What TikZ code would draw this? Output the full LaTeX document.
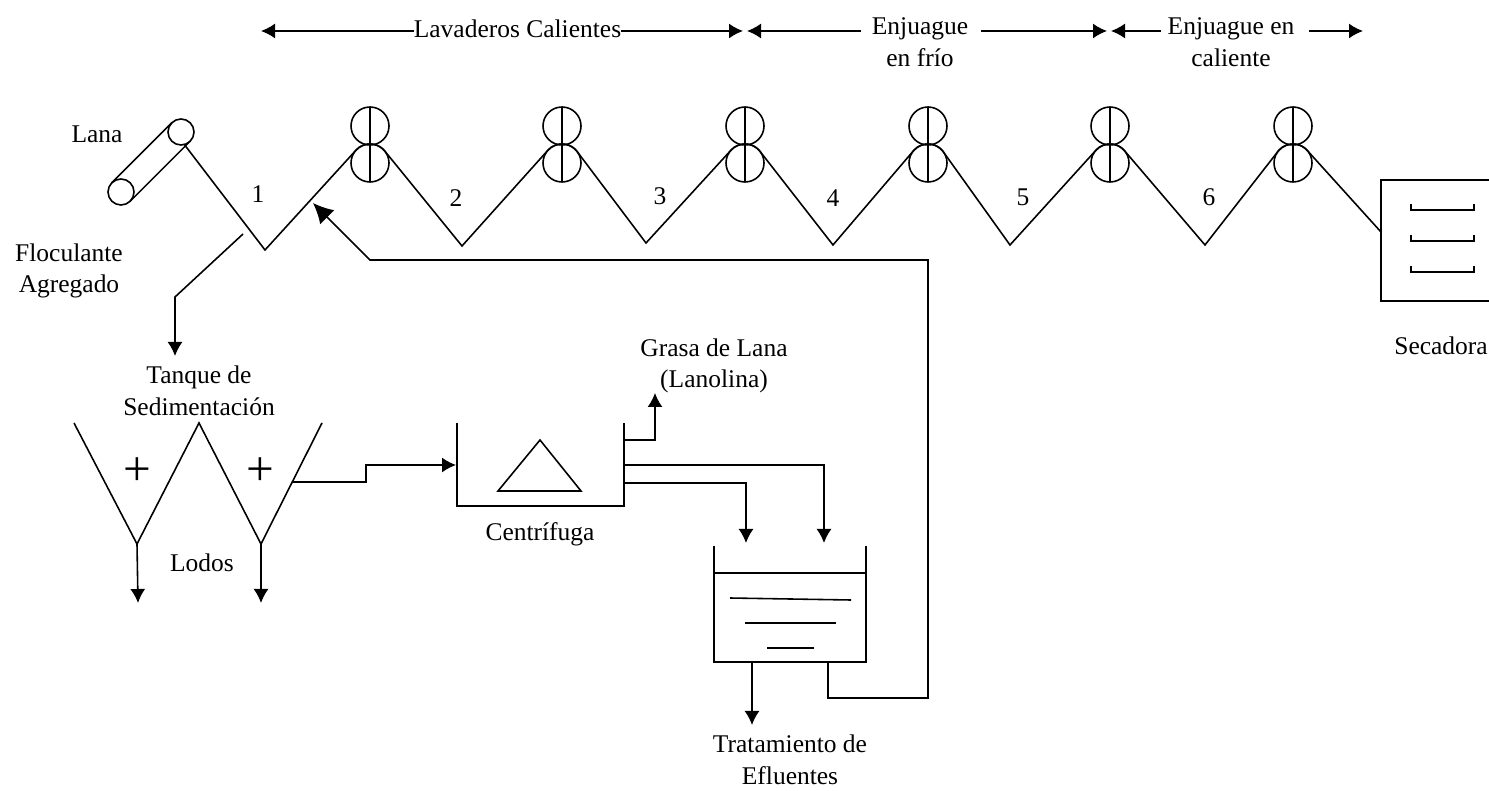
\documentclass[tikz,border=0pt]{standalone}
\usepackage{fontspec}
\setmainfont{Liberation Serif}
\usetikzlibrary{arrows.meta}

\begin{document}
\begin{tikzpicture}[scale=0.2,line width=0.9pt]
\tikzstyle{every node}+=[inner sep=0pt,outer sep=0pt,font=\fontsize{14.5}{18}\selectfont,align=center]
\tikzstyle{rodillo}=[draw,circle,minimum size=0.76cm]
\tikzstyle{polea}=[draw,circle,minimum size=0.52cm]
\tikzstyle{flecha}=[-{Latex[length=2.8mm,width=3mm]}]
\tikzstyle{flechaG}=[-{Latex[length=4mm,width=4mm]}]
\useasboundingbox (0,0) rectangle (148.9,-79.1);
% lana
\node at (9.7,-13.4) (lana) {Lana};
\node [polea] at (18.1,-13.2) (p1) {};
\node [polea] at (12.1,-19.2) (p2) {};
\draw (p1.135) -- (p2.135);
\draw (p1.-45) -- (p2.-45);
% rodillos
\node [rodillo] at (37,-12.6) (r1a) {};
\node [rodillo] at (37,-16.3) (r1b) {};
\node [rodillo] at (56.2,-12.6) (r2a) {};
\node [rodillo] at (56.2,-16.3) (r2b) {};
\node [rodillo] at (74.5,-12.6) (r3a) {};
\node [rodillo] at (74.5,-16.3) (r3b) {};
\node [rodillo] at (92.8,-12.6) (r4a) {};
\node [rodillo] at (92.8,-16.3) (r4b) {};
\node [rodillo] at (111,-12.6) (r5a) {};
\node [rodillo] at (111,-16.3) (r5b) {};
\node [rodillo] at (129.3,-12.6) (r6a) {};
\node [rodillo] at (129.3,-16.3) (r6b) {};
\draw (r1a.north) -- (r1b.south);
\draw (r2a.north) -- (r2b.south);
\draw (r3a.north) -- (r3b.south);
\draw (r4a.north) -- (r4b.south);
\draw (r5a.north) -- (r5b.south);
\draw (r6a.north) -- (r6b.south);
% banos
\coordinate (v1) at (26.5,-25);
\coordinate (v2) at (46.2,-24.6);
\coordinate (v3) at (64.6,-24.3);
\coordinate (v4) at (83.3,-24.5);
\coordinate (v5) at (101,-24.5);
\coordinate (v6) at (120.5,-24.5);
\coordinate (s1) at (138.1,-23.2);
\draw (p1.-75) -- (v1) -- (r1b.140) arc (140:40:1.9) -- (v2) -- (r2b.140) arc (140:40:1.9)
 -- (v3) -- (r3b.140) arc (140:40:1.9) -- (v4) -- (r4b.140) arc (140:40:1.9)
 -- (v5) -- (r5b.140) arc (140:40:1.9) -- (v6) -- (r6b.140) arc (140:40:1.9) -- (s1);
\node at (25.8,-19.4) (n1) {1};
\node at (45.6,-19.8) (n2) {2};
\node at (66,-19.6) (n3) {3};
\node at (83.3,-19.8) (n4) {4};
\node at (102.3,-19.7) (n5) {5};
\node at (120.9,-19.7) (n6) {6};
% secadora
\coordinate (d1) at (148.9,-18);
\coordinate (d2) at (138.1,-18);
\coordinate (d3) at (138.1,-30.1);
\coordinate (d4) at (148.9,-30.1);
\draw (d1) -- (d2) -- (d3) -- (d4);
\draw (141.1,-20.4) -- (141.1,-21) -- (147.4,-21) -- (147.4,-20.4);
\draw (141.1,-23.5) -- (141.1,-24.1) -- (147.4,-24.1) -- (147.4,-23.5);
\draw (141.1,-26.6) -- (141.1,-27.2) -- (147.4,-27.2) -- (147.4,-26.6);
\node at (144.1,-34.6) (secadora) {Secadora};
% encabezados
\node at (51.75,-2.9) (lav) {Lavaderos Calientes};
\node at (92,-4.2) (fri) {Enjuague\\en frío};
\node at (123.1,-4.2) (cal) {Enjuague en\\caliente};
\coordinate (a1) at (26.1,-3.1);
\coordinate (a2) at (74.3,-3.1);
\coordinate (a3) at (74.7,-3.1);
\coordinate (a4) at (86.1,-3.1);
\coordinate (a5) at (98.1,-3.1);
\coordinate (a6) at (110.7,-3.1);
\coordinate (a7) at (111.1,-3.1);
\coordinate (a8) at (116.1,-3.1);
\coordinate (a9) at (130.9,-3.1);
\coordinate (a10) at (136.3,-3.1);
\draw [flecha] (lav.west |- a1) -- (a1);
\draw [flecha] (lav.east |- a2) -- (a2);
\draw [flecha] (a4) -- (a3);
\draw [flecha] (a5) -- (a6);
\draw [flecha] (a8) -- (a7);
\draw [flecha] (a9) -- (a10);
% floculante
\node at (6.9,-27.1) (floc) {Floculante\\Agregado};
\coordinate (f1) at (24.3,-23.4);
\coordinate (f2) at (17.5,-29.7);
\coordinate (f3) at (17.5,-35.6);
\draw [flecha] (f1) -- (f2) -- (f3);
% sedimentacion
\node at (19.9,-39.1) (tanque) {Tanque de\\Sedimentación};
\coordinate (t1) at (7.4,-42.3);
\coordinate (t2) at (13.7,-54.4);
\coordinate (t3) at (19.9,-42.3);
\coordinate (t4) at (26.1,-54.4);
\coordinate (t5) at (32.2,-42.3);
\coordinate (t6) at (13.8,-60.3);
\coordinate (t7) at (26.1,-60.3);
\draw (t1) -- (t2) -- (t3) -- (t4) -- (t5);
\draw [flecha] (t2) -- (t6);
\draw [flecha] (t4) -- (t7);
\node [font=\fontsize{28}{28}\selectfont] at (13.7,-47.2) (mas1) {+};
\node [font=\fontsize{28}{28}\selectfont] at (26,-47.2) (mas2) {+};
\node at (20.2,-56.3) (lodos) {Lodos};
% centrifuga
\coordinate (c1) at (45.7,-42.3);
\coordinate (c2) at (45.7,-50.6);
\coordinate (c3) at (62.4,-50.6);
\coordinate (c4) at (62.4,-42.3);
\draw (c1) -- (c2) -- (c3) -- (c4);
\coordinate (tr1) at (54,-44);
\coordinate (tr2) at (49.8,-49.1);
\coordinate (tr3) at (58.1,-49.1);
\draw (tr1) -- (tr2) -- (tr3) -- cycle;
\node at (54,-53.4) (centri) {Centrífuga};
\coordinate (e1) at (29.3,-48.2);
\coordinate (e2) at (36.6,-48.2);
\coordinate (e3) at (36.6,-46.5);
\coordinate (e4) at (45.6,-46.5);
\draw [flecha] (e1) -- (e2) -- (e3) -- (e4);
% grasa
\node at (71.4,-36.6) (grasa) {Grasa de Lana\\(Lanolina)};
\coordinate (g1) at (62.4,-44);
\coordinate (g2) at (65.5,-44);
\coordinate (g3) at (65.5,-39.3);
\draw [flecha] (g1) -- (g2) -- (g3);
% efluentes
\coordinate (k1) at (71.4,-54.6);
\coordinate (k2) at (71.4,-66.2);
\coordinate (k3) at (86.6,-66.2);
\coordinate (k4) at (86.6,-54.6);
\coordinate (k5) at (71.4,-57.3);
\coordinate (k6) at (86.6,-57.3);
\draw (k1) -- (k2) -- (k3) -- (k4);
\draw (k5) -- (k6);
\draw (73,-59.8) -- (85.1,-60);
\draw (74.5,-62.3) -- (83.6,-62.3);
\draw (76.7,-64.8) -- (81.4,-64.8);
\coordinate (h1) at (62.4,-46.5);
\coordinate (h2) at (82.4,-46.5);
\coordinate (h3) at (82.4,-54.3);
\coordinate (h4) at (62.4,-48.3);
\coordinate (h5) at (74.6,-48.3);
\coordinate (h6) at (74.6,-54.3);
\draw [flecha] (h1) -- (h2) -- (h3);
\draw [flecha] (h4) -- (h5) -- (h6);
\coordinate (o1) at (75.2,-66.2);
\coordinate (o2) at (75.2,-72.5);
\draw [flecha] (o1) -- (o2);
\node at (79,-76) (trat) {Tratamiento de\\Efluentes};
% retorno
\coordinate (w1) at (82.8,-66.2);
\coordinate (w2) at (82.8,-69.8);
\coordinate (w3) at (92.8,-69.8);
\coordinate (w4) at (92.8,-26);
\coordinate (w5) at (37,-26);
\coordinate (w6) at (31.3,-20.3);
\draw [flechaG] (w1) -- (w2) -- (w3) -- (w4) -- (w5) -- (w6);
\end{tikzpicture}
\end{document}
